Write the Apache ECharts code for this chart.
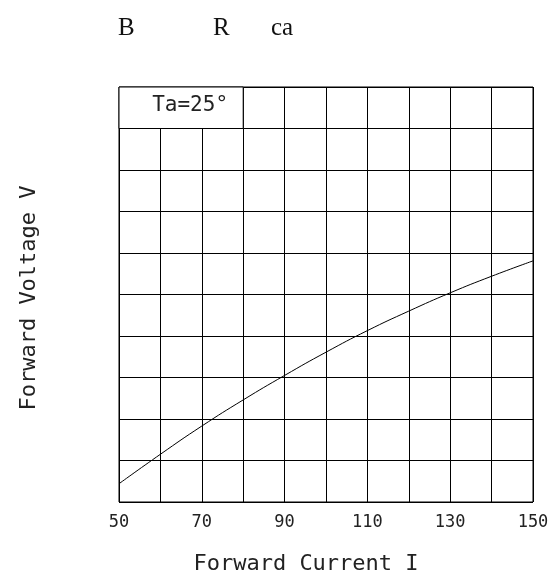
<!DOCTYPE html>
<html>
<head>
<meta charset="utf-8">
<script src="https://cdn.jsdelivr.net/npm/echarts@6/dist/echarts.min.js"></script>
<style>
html,body{margin:0;padding:0;background:#fff;}
#chart{width:558px;height:586px;}
</style>
</head>
<body>
<div id="chart"></div>
<script>
var currentValues = [50, 60, 70, 80, 90, 100, 110, 120, 130, 140, 150];
var voltageValues = [0.44, 1.15, 1.83, 2.46, 3.05, 3.61, 4.13, 4.60, 5.04, 5.44, 5.81];
var xTickLabels = [50, 70, 90, 110, 130, 150];
var titleParts = ["B", "R", "ca"];
var noteText = "Ta=25°";
var xName = "Forward Current I";
var yName = "Forward Voltage V";

var mono = "DejaVu Sans Mono";
var chart = echarts.init(document.getElementById('chart'));
var seriesData = currentValues.map(function (x, i) { return [x, voltageValues[i]]; });

chart.setOption({
  animation: false,
  backgroundColor: '#fff',
  grid: { left: 119, right: 25, top: 87, bottom: 84, show: true, borderColor: '#000', borderWidth: 1, backgroundColor: 'transparent' },
  xAxis: {
    type: 'value', min: 50, max: 150, interval: 20,
    axisLine: { show: false }, axisTick: { show: false },
    splitLine: { show: true, lineStyle: { color: '#000', width: 1 } },
    minorTick: { show: false, splitNumber: 2 },
    minorSplitLine: { show: true, lineStyle: { color: '#000', width: 1 } },
    axisLabel: {
      margin: 12, fontFamily: mono, fontSize: 17, color: '#222',
      formatter: function (v) { return xTickLabels.indexOf(v) >= 0 ? String(v) : ''; }
    }
  },
  yAxis: {
    type: 'value', min: 0, max: 10, interval: 1,
    axisLine: { show: false }, axisTick: { show: false }, axisLabel: { show: false },
    splitLine: { show: true, lineStyle: { color: '#000', width: 1 } }
  },
  graphic: [
    { type: 'text', left: 118, top: 16, style: { text: titleParts[0], font: '25px "Liberation Serif"', fill: '#111' } },
    { type: 'text', left: 213, top: 16, style: { text: titleParts[1], font: '25px "Liberation Serif"', fill: '#111' } },
    { type: 'text', left: 271, top: 16, style: { text: titleParts[2], font: '25px "Liberation Serif"', fill: '#111' } },
    { type: 'text', x: 306, y: 564, style: { text: xName, font: '22px "' + mono + '"', fill: '#222', textAlign: 'center', textVerticalAlign: 'middle' } },
    { type: 'text', x: 29, y: 298, rotation: Math.PI / 2, style: { text: yName, font: '22px "' + mono + '"', fill: '#222', textAlign: 'center', textVerticalAlign: 'middle' } }
  ],
  series: [{
    type: 'line', data: seriesData, smooth: true, showSymbol: false, symbol: 'none',
    lineStyle: { color: '#000', width: 1 },
    markArea: {
      silent: true,
      itemStyle: { color: '#fff', borderColor: '#000', borderWidth: 1 },
      label: { show: true, position: 'inside', offset: [9, -2], fontFamily: mono, fontSize: 21, color: '#222' },
      data: [[{ coord: [50, 9], name: noteText }, { coord: [80, 10] }]]
    }
  }]
});
</script>
</body>
</html>
